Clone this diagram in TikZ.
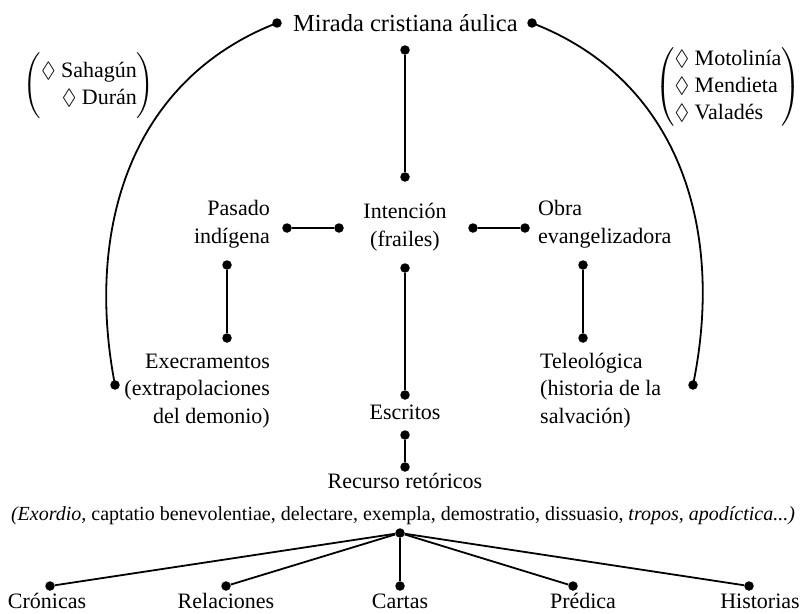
\documentclass[tikz,border=0pt]{standalone}
\usepackage{amsmath}
\usepackage{amssymb}
\usepackage{fontspec}
\setmainfont{Liberation Serif}
\usepackage{tikz}

\begin{document}
\begin{tikzpicture}[x=1pt, y=1pt,
  every node/.style={inner sep=0pt},
  dot/.style={circle, minimum size=9.5pt, fill=black},
  txt/.style={font=\fontsize{22}{27.5}\selectfont, anchor=base},
  link/.style={line width=1.8pt, color=black}]
\useasboundingbox (0,0) rectangle (803,-613);
% texts (base = last line)
\node (mirada) [txt, font=\fontsize{24.5}{28}\selectfont, anchor=base west] at (293pt, -31pt) {Mirada cristiana áulica};
\node (frailes) [txt, align=center, anchor=base] at (405pt, -246pt) {Intención\\(frailes)};
\node (pasado) [txt, align=right, anchor=base east] at (270pt, -243pt) {Pasado\\indígena};
\node (obra) [txt, align=left, anchor=base west] at (538pt, -243pt) {Obra\\evangelizadora};
\node (execr) [txt, align=right, anchor=base east] at (270pt, -423pt) {Execramentos\\(extrapolaciones\\del demonio)};
\node (teleo) [txt, align=left, anchor=base west] at (540pt, -423pt) {Teleológica\\(historia de la\\salvación)};
\node (escritos) [txt] at (405pt, -419pt) {Escritos};
\node (recurso) [txt] at (405pt, -488pt) {Recurso retóricos};
\node (retorica) [txt, font=\fontsize{20}{24}\selectfont] at (403pt, -520pt) {\textit{(Exordio,} captatio benevolentiae, delectare, exempla, demostratio, dissuasio, \textit{tropos, apodíctica...)}};
\node (cronicas) [txt] at (47pt, -608pt) {Crónicas};
\node (relaciones) [txt] at (226pt, -608pt) {Relaciones};
\node (cartas) [txt] at (400pt, -608pt) {Cartas};
\node (predica) [txt] at (583pt, -608pt) {Prédica};
\node (historias) [txt] at (760pt, -608pt) {Historias};
\node (frailesA) [font=\fontsize{22}{27}\selectfont] at (89pt, -86pt) {$\Biggl(\begin{array}{@{}r@{}}\lozenge\ \text{Sahagún}\\ \lozenge\ \text{Durán}\end{array}\Biggr)$};
\node (frailesB) [font=\fontsize{22}{27}\selectfont] at (728pt, -87pt) {$\left(\begin{array}{@{}l@{}}\lozenge\ \text{Motolinía}\\ \lozenge\ \text{Mendieta}\\ \lozenge\ \text{Valadés}\end{array}\right)$};
% dots
\node (1) [dot] at (277pt, -23pt) {};
\node (2) [dot] at (532pt, -23pt) {};
\node (3) [dot] at (405pt, -50pt) {};
\node (4) [dot] at (405pt, -177pt) {};
\node (5) [dot] at (287pt, -228pt) {};
\node (6) [dot] at (339pt, -228pt) {};
\node (7) [dot] at (473pt, -228pt) {};
\node (8) [dot] at (525pt, -228pt) {};
\node (9) [dot] at (227pt, -265pt) {};
\node (10) [dot] at (227pt, -338pt) {};
\node (11) [dot] at (405pt, -268pt) {};
\node (12) [dot] at (405pt, -395pt) {};
\node (13) [dot] at (583pt, -265pt) {};
\node (14) [dot] at (583pt, -338pt) {};
\node (15) [dot] at (115pt, -385pt) {};
\node (16) [dot] at (693pt, -385pt) {};
\node (17) [dot] at (405pt, -435pt) {};
\node (18) [dot] at (405pt, -467pt) {};
\node (19) [dot] at (400pt, -533pt) {};
\node (20) [dot] at (50pt, -586pt) {};
\node (21) [dot] at (226pt, -586pt) {};
\node (22) [dot] at (400pt, -586pt) {};
\node (23) [dot] at (573pt, -586pt) {};
\node (24) [dot] at (749pt, -586pt) {};
% links
\draw [link] (1.center) .. controls (130pt, -80pt) and (85pt, -230pt) .. (15.center);
\draw [link] (2.center) .. controls (680pt, -80pt) and (725pt, -230pt) .. (16.center);
\draw [link] (3) to (4);
\draw [link] (5) to (6);
\draw [link] (7) to (8);
\draw [link] (9) to (10);
\draw [link] (11) to (12);
\draw [link] (13) to (14);
\draw [link] (17) to (18);
\draw [link] (19) to (20);
\draw [link] (19) to (21);
\draw [link] (19) to (22);
\draw [link] (19) to (23);
\draw [link] (19) to (24);
\end{tikzpicture}
\end{document}
